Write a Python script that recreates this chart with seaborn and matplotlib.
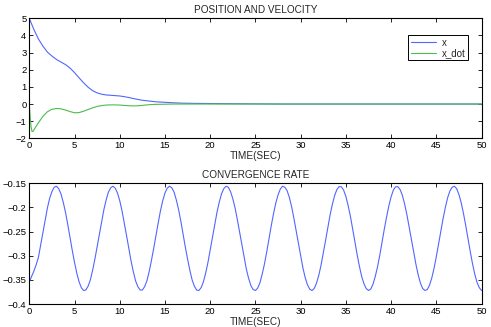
import matplotlib
matplotlib.use("Agg")
import matplotlib.pyplot as plt
import seaborn as sns

# position / velocity
t_x = [0, 0.5, 1.0, 1.5, 2.0, 2.5, 3.0, 3.5, 4.0, 4.5, 5.0, 5.5, 6.0, 6.5, 7.0, 7.5,
       8.0, 8.5, 9.0, 9.5, 10.0, 10.5, 11.0, 11.5, 12.0, 12.5, 13.0, 13.5, 14.0,
       15.0, 16.0, 17.0, 18.0, 20.0, 22.0, 25.0, 28.0, 50.0]
x_pos = [5.0, 4.35, 3.8, 3.38, 3.03, 2.8, 2.6, 2.45, 2.3, 2.1, 1.83, 1.53, 1.24, 0.98,
         0.78, 0.65, 0.57, 0.53, 0.51, 0.49, 0.47, 0.43, 0.38, 0.32, 0.27, 0.22,
         0.19, 0.16, 0.13, 0.1, 0.07, 0.05, 0.04, 0.03, 0.02, 0.01, 0.0, 0.0]

t_v = [0, 0.1, 0.2, 0.3, 0.4, 0.5, 0.75, 1.0, 1.5, 2.0, 2.5, 3.0, 3.5, 4.0, 4.5, 5.0,
       5.5, 6.0, 6.5, 7.0, 7.5, 8.0, 8.5, 9.0, 9.5, 10.0, 10.5, 11.0, 11.5, 12.0,
       12.5, 13.0, 13.5, 14.0, 15.0, 16.0, 50.0]
x_dot = [0.0, -0.8, -1.35, -1.6, -1.6, -1.52, -1.3, -1.1, -0.72, -0.45, -0.31, -0.26,
         -0.28, -0.35, -0.44, -0.51, -0.5, -0.42, -0.32, -0.22, -0.14, -0.09, -0.06,
         -0.05, -0.05, -0.06, -0.08, -0.1, -0.11, -0.1, -0.08, -0.05, -0.03, -0.02,
         -0.01, 0.0, 0.0]

# convergence rate, sampled every 0.25 s
t_rate = [i * 0.25 for i in range(201)]
rate = [-0.354, -0.343, -0.332, -0.319, -0.304, -0.278, -0.251, -0.225, -0.201, -0.181,
        -0.167, -0.158, -0.156, -0.161, -0.172, -0.189, -0.210, -0.235, -0.262, -0.289,
        -0.314, -0.336, -0.354, -0.366, -0.372, -0.371, -0.363, -0.350, -0.330, -0.307,
        -0.281, -0.255, -0.228, -0.204, -0.184, -0.168, -0.159, -0.156, -0.160, -0.170,
        -0.186, -0.207, -0.232, -0.258, -0.285, -0.311, -0.333, -0.352, -0.364, -0.371,
        -0.371, -0.364, -0.352, -0.333, -0.310, -0.285, -0.258, -0.232, -0.207, -0.186,
        -0.170, -0.160, -0.156, -0.159, -0.168, -0.184, -0.204, -0.228, -0.255, -0.282,
        -0.307, -0.330, -0.350, -0.363, -0.371, -0.372, -0.366, -0.354, -0.336, -0.314,
        -0.288, -0.262, -0.235, -0.210, -0.189, -0.172, -0.161, -0.156, -0.158, -0.167,
        -0.182, -0.201, -0.225, -0.251, -0.278, -0.304, -0.328, -0.347, -0.362, -0.370,
        -0.372, -0.367, -0.356, -0.338, -0.317, -0.292, -0.265, -0.238, -0.213, -0.191,
        -0.174, -0.162, -0.156, -0.158, -0.165, -0.179, -0.198, -0.222, -0.248, -0.275,
        -0.301, -0.325, -0.345, -0.360, -0.369, -0.372, -0.368, -0.357, -0.341, -0.320,
        -0.295, -0.269, -0.242, -0.216, -0.194, -0.176, -0.163, -0.157, -0.157, -0.164,
        -0.177, -0.196, -0.218, -0.244, -0.271, -0.298, -0.322, -0.343, -0.358, -0.368,
        -0.372, -0.369, -0.359, -0.343, -0.323, -0.299, -0.272, -0.245, -0.220, -0.197,
        -0.178, -0.164, -0.157, -0.157, -0.163, -0.175, -0.193, -0.215, -0.241, -0.267,
        -0.294, -0.318, -0.340, -0.357, -0.368, -0.372, -0.370, -0.361, -0.346, -0.326,
        -0.302, -0.276, -0.249, -0.223, -0.200, -0.180, -0.166, -0.158, -0.156, -0.161,
        -0.173, -0.190, -0.212, -0.237, -0.264, -0.291, -0.316, -0.338, -0.355, -0.366,
        -0.372]

top_yticks = [-2, -1, 0, 1, 2, 3, 4, 5]
bot_yticks = [-0.4, -0.35, -0.3, -0.25, -0.2, -0.15]
xticks = [0, 5, 10, 15, 20, 25, 30, 35, 40, 45, 50]

BLUE = "#5266ff"
GREEN = "#4cbc4c"

sns.set_style("ticks")
plt.rcParams["font.family"] = ["Liberation Sans", "DejaVu Sans"]
plt.rcParams["axes.linewidth"] = 0.8


def fmt(v):
    s = "%g" % v
    return s.replace("-", "\u2212")


def style_axes(ax, title, yticks):
    ax.set_xlim(0, 50)
    ax.set_xticks(xticks)
    ax.set_xticklabels([fmt(v) for v in xticks])
    ax.set_yticks(yticks)
    ax.set_yticklabels([fmt(v) for v in yticks])
    ax.set_ylim(yticks[0], yticks[-1])
    ax.tick_params(direction="in", top=True, right=True, length=3, width=0.6,
                   labelsize=6.8, pad=2, colors="black")
    for sp in ax.spines.values():
        sp.set_visible(True)
        sp.set_color("black")
    ax.set_title(title, fontsize=7.2, pad=4)
    ax.set_xlabel("TIME(SEC)", fontsize=7.2, labelpad=1)
    ax.set_ylabel("")


fig = plt.figure(figsize=(4.91, 3.27), dpi=100)
ax1 = fig.add_axes([0.0597, 0.577, 0.921, 0.367])
ax2 = fig.add_axes([0.0597, 0.0703, 0.921, 0.369])

sns.lineplot(x=t_x, y=x_pos, ax=ax1, color=BLUE, linewidth=0.8, label="x")
sns.lineplot(x=t_v, y=x_dot, ax=ax1, color=GREEN, linewidth=0.8, label="x_dot")
style_axes(ax1, "POSITION AND VELOCITY", top_yticks)
leg = ax1.legend(loc="upper right", bbox_to_anchor=(0.97, 0.86), borderaxespad=0,
                 fontsize=7, handlelength=2.6, handletextpad=0.6, labelspacing=0.05,
                 borderpad=0.25, fancybox=False, framealpha=1)
leg.get_frame().set_edgecolor("black")
leg.get_frame().set_linewidth(0.7)

sns.lineplot(x=t_rate, y=rate, ax=ax2, color=BLUE, linewidth=0.8)
style_axes(ax2, "CONVERGENCE RATE", bot_yticks)

fig.savefig("out.png", dpi=100)
